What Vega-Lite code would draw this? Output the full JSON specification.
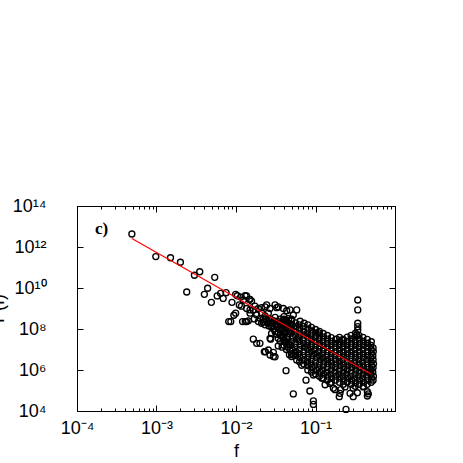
{
  "$schema": "https://vega.github.io/schema/vega-lite/v6.json",
  "width": 318,
  "height": 205,
  "autosize": {"type": "none"},
  "padding": {"left": 77, "top": 206, "right": 68, "bottom": 52},
  "background": "white",
  "config": {"view": {"stroke": "black", "strokeWidth": 1}},
  "datasets": {
    "pts": [
      {"f":4.9e-4,"P":4.3e12},{"f":9.8e-4,"P":3.4e11},{"f":1.5e-3,"P":3.0e11},{"f":2.0e-3,"P":1.8e11},{"f":2.4e-3,"P":6.4e9},{"f":3.0e-3,"P":4.2e10},{"f":3.5e-3,"P":6.2e10},{"f":4.0e-3,"P":4.9e9},{"f":4.4e-3,"P":9.7e9},{"f":4.9e-3,"P":2.0e9},{"f":5.4e-3,"P":3.3e10},{"f":5.8e-3,"P":4.1e9},{"f":6.4e-3,"P":5.5e9},{"f":6.9e-3,"P":3.1e9},{"f":7.5e-3,"P":5.9e9},{"f":8.9e-3,"P":2.0e9},{"f":9.9e-3,"P":4.9e9},{"f":1.04e-2,"P":4.2e9},{"f":1.15e-2,"P":3.6e9},{"f":1.30e-2,"P":4.2e9},{"f":1.47e-2,"P":2.8e9},{"f":1.57e-2,"P":2.3e9},{"f":1.10e-2,"P":1.5e9},{"f":1.17e-2,"P":1.3e9},{"f":1.36e-2,"P":1.0e9},{"f":1.50e-2,"P":8.5e8},{"f":9.4e-3,"P":4.7e8},{"f":8.1e-3,"P":2.3e8},{"f":8.6e-3,"P":2.3e8},{"f":1.21e-2,"P":2.3e8},{"f":1.31e-2,"P":2.3e8},{"f":1.70e-2,"P":3.1e8},{"f":2.10e-2,"P":1.1e9},{"f":2.32e-2,"P":1.2e9},{"f":3.25e-2,"P":1.1e9},{"f":5.0e-2,"P":2.8e8},{"f":1.65e-2,"P":3.2e7},{"f":1.82e-2,"P":2.0e7},{"f":2.0e-2,"P":2.0e7},{"f":2.73e-2,"P":3.2e7},{"f":3.40e-2,"P":1.5e7},{"f":2.34e-2,"P":7.8e6},{"f":2.95e-2,"P":7.3e6},{"f":3.1e-2,"P":4.4e6},
      {"f":9.9e-3,"P":5.9e8},{"f":1.43e-2,"P":2.5e8},{"f":1.50e-2,"P":5.9e8},{"f":1.65e-2,"P":8.5e8},{"f":1.73e-2,"P":1.3e9},{"f":1.91e-2,"P":1.0e9},{"f":1.82e-2,"P":4.8e8},{"f":2.10e-2,"P":5.9e8},{"f":2.32e-2,"P":4.3e8},{"f":2.55e-2,"P":5.9e8},{"f":2.0e-2,"P":3.3e8},{"f":2.2e-2,"P":3.0e8},{"f":2.43e-2,"P":2.3e8},{"f":2.81e-2,"P":2.8e8},{"f":3.1e-2,"P":3.7e8},{"f":2.55e-2,"P":1.9e8},{"f":2.95e-2,"P":1.9e8},{"f":3.4e-2,"P":2.3e8},{"f":3.25e-2,"P":1.3e8},{"f":3.76e-2,"P":1.1e8},{"f":4.13e-2,"P":1.6e8},{"f":3.1e-2,"P":1.5e9},{"f":3.4e-2,"P":1.2e9},{"f":3.94e-2,"P":1.0e9},{"f":4.34e-2,"P":7.8e8},{"f":4.78e-2,"P":8.5e8},{"f":5.8e-2,"P":8.5e8},{"f":2.68e-2,"P":1.0e9},{"f":2.43e-2,"P":1.5e9},{"f":5.26e-2,"P":4.8e8},{"f":1.36e-2,"P":4.1e9},{"f":1.50e-2,"P":2.8e9},{"f":1.24e-2,"P":2.6e9},
      {"f":2.27e-2,"P":7.8e6},{"f":2.55e-2,"P":9.5e6},{"f":2.68e-2,"P":5.4e6},{"f":2.95e-2,"P":4.5e6},{"f":2.68e-2,"P":3.5e7},{"f":3.4e-2,"P":3.5e7},{"f":1.91e-2,"P":2.3e8},{"f":2.10e-2,"P":1.9e8},{"f":2.32e-2,"P":1.6e8},{"f":2.81e-2,"P":1.3e8},{"f":3.1e-2,"P":7.4e7},{"f":3.76e-2,"P":8.9e7},{"f":4.13e-2,"P":6.2e7},{"f":3.94e-2,"P":2.9e7},{"f":4.34e-2,"P":1.7e7},{"f":4.78e-2,"P":9.5e6},{"f":5.52e-2,"P":6.5e6},{"f":5.0e-2,"P":4.5e6},{"f":5.8e-2,"P":3.1e6},{"f":1.36e-2,"P":2.3e8},
      {"f":4.5e-2,"P":2.0e8},{"f":4.0e-2,"P":3.0e8},{"f":3.6e-2,"P":1.8e8},{"f":4.6e-2,"P":1.2e8},{"f":3.6e-2,"P":5.0e7},{"f":4.4e-2,"P":4.0e7},
      {"f":0.027,"P":2.2e8},{"f":0.029,"P":1.5e8},{"f":0.031,"P":2.4e8},{"f":0.033,"P":1.7e8},{"f":0.035,"P":1.0e8},{"f":0.037,"P":1.4e8},{"f":0.030,"P":1.0e8},{"f":0.032,"P":5.5e7},{"f":0.034,"P":7.0e7},{"f":0.038,"P":4.5e7},{"f":0.036,"P":2.5e7},{"f":0.042,"P":2.2e7},{"f":0.038,"P":1.3e7},{"f":0.043,"P":1.0e7},{"f":0.047,"P":5.5e6},{"f":0.026,"P":1.4e8},{"f":0.028,"P":6.0e7},{"f":0.024,"P":3.0e8},{"f":0.022,"P":2.2e8},{"f":0.026,"P":3.3e8},{"f":0.036,"P":3.0e8},{"f":0.038,"P":2.2e8},{"f":0.043,"P":2.6e8},{"f":0.047,"P":1.7e8},
      {"f":4.26e-2,"P":9.3e5},{"f":7.6e-2,"P":3.2e5},{"f":5.26e-2,"P":6.8e4},{"f":8.5e-2,"P":9.5e4},{"f":9.4e-2,"P":3.1e4},{"f":9.4e-2,"P":2.1e4},{"f":0.242,"P":1.2e4},{"f":0.176,"P":1.1e5},{"f":0.208,"P":1.1e5},{"f":0.203,"P":7.3e4},{"f":0.272,"P":7.3e4},{"f":0.336,"P":7.8e4},{"f":0.449,"P":8.7e4},{"f":0.462,"P":6.8e4},{"f":0.449,"P":5.4e4},{"f":0.199,"P":5.0e4},{"f":0.298,"P":5.0e4},
      {"f":0.0526,"P":5.4e6},{"f":0.067,"P":1.7e6},{"f":0.094,"P":5.7e5},{"f":0.12,"P":4.0e5},{"f":0.152,"P":2.2e5},{"f":0.235,"P":1.5e5},{"f":0.298,"P":1.3e5},{"f":0.40,"P":1.5e5},{"f":0.132,"P":1.9e5},{"f":0.168,"P":1.3e5},
      {"f":0.34,"P":2.6e9},{"f":0.34,"P":8.5e8},{"f":0.34,"P":1.9e8},{"f":0.34,"P":1.3e8},{"f":0.34,"P":8.9e7},{"f":0.33,"P":5.1e7},
      {"f":0.108,"P":6.6e7},{"f":0.185,"P":3.2e7},{"f":0.217,"P":2.9e7},{"f":0.449,"P":2.0e7},{"f":0.05,"P":3.0e8},
      {"f":0.040,"P":1.6e7},{"f":0.041,"P":2.5e7},{"f":0.039,"P":4.2e7},{"f":0.040,"P":6.3e7},{"f":0.042,"P":1.0e8},{"f":0.039,"P":1.6e8},{"f":0.041,"P":2.6e8},{"f":0.040,"P":4.0e8},
      {"f":0.045,"P":1.3e7},{"f":0.046,"P":2.0e7},{"f":0.044,"P":3.2e7},{"f":0.045,"P":5.0e7},{"f":0.047,"P":7.9e7},{"f":0.044,"P":1.3e8},{"f":0.045,"P":2.0e8},{"f":0.046,"P":3.2e8},
      {"f":0.050,"P":6.3e6},{"f":0.051,"P":1.0e7},{"f":0.049,"P":1.6e7},{"f":0.050,"P":2.5e7},{"f":0.052,"P":4.0e7},{"f":0.050,"P":6.3e7},{"f":0.049,"P":1.0e8},{"f":0.051,"P":1.6e8},{"f":0.050,"P":2.5e8},
      {"f":0.056,"P":5.0e6},{"f":0.057,"P":7.9e6},{"f":0.055,"P":1.3e7},{"f":0.056,"P":2.0e7},{"f":0.058,"P":3.2e7},{"f":0.056,"P":5.0e7},{"f":0.055,"P":7.9e7},{"f":0.057,"P":1.3e8},{"f":0.056,"P":2.0e8},
      {"f":0.063,"P":2.5e6},{"f":0.064,"P":4.0e6},{"f":0.062,"P":6.3e6},{"f":0.063,"P":1.0e7},{"f":0.065,"P":1.6e7},{"f":0.063,"P":2.5e7},{"f":0.062,"P":4.0e7},{"f":0.064,"P":6.3e7},{"f":0.063,"P":1.0e8},{"f":0.062,"P":1.6e8},{"f":0.064,"P":2.4e8},
      {"f":0.071,"P":2.0e6},{"f":0.072,"P":3.2e6},{"f":0.070,"P":5.0e6},{"f":0.071,"P":7.9e6},{"f":0.073,"P":1.3e7},{"f":0.071,"P":2.0e7},{"f":0.070,"P":3.2e7},{"f":0.072,"P":5.0e7},{"f":0.071,"P":7.9e7},{"f":0.070,"P":1.3e8},{"f":0.072,"P":1.9e8},
      {"f":0.080,"P":1.0e6},{"f":0.081,"P":1.6e6},{"f":0.079,"P":2.5e6},{"f":0.080,"P":4.0e6},{"f":0.082,"P":6.3e6},{"f":0.080,"P":1.0e7},{"f":0.079,"P":1.6e7},{"f":0.081,"P":2.5e7},{"f":0.080,"P":4.0e7},{"f":0.079,"P":6.3e7},{"f":0.081,"P":1.0e8},{"f":0.080,"P":1.6e8},
      {"f":0.089,"P":7.9e5},{"f":0.090,"P":1.3e6},{"f":0.088,"P":2.0e6},{"f":0.089,"P":3.2e6},{"f":0.091,"P":5.0e6},{"f":0.089,"P":7.9e6},{"f":0.088,"P":1.3e7},{"f":0.090,"P":2.0e7},{"f":0.089,"P":3.2e7},{"f":0.088,"P":5.0e7},{"f":0.090,"P":7.9e7},{"f":0.089,"P":1.2e8},
      {"f":0.100,"P":6.3e5},{"f":0.102,"P":1.0e6},{"f":0.098,"P":1.6e6},{"f":0.100,"P":2.5e6},{"f":0.103,"P":4.0e6},{"f":0.100,"P":6.3e6},{"f":0.098,"P":1.0e7},{"f":0.101,"P":1.6e7},{"f":0.100,"P":2.5e7},{"f":0.099,"P":4.0e7},{"f":0.101,"P":6.3e7},{"f":0.100,"P":9.5e7},
      {"f":0.112,"P":5.0e5},{"f":0.114,"P":7.9e5},{"f":0.110,"P":1.3e6},{"f":0.112,"P":2.0e6},{"f":0.115,"P":3.2e6},{"f":0.112,"P":5.0e6},{"f":0.110,"P":7.9e6},{"f":0.113,"P":1.3e7},{"f":0.112,"P":2.0e7},{"f":0.111,"P":3.2e7},{"f":0.113,"P":5.0e7},{"f":0.112,"P":7.6e7},
      {"f":0.125,"P":4.0e5},{"f":0.127,"P":6.3e5},{"f":0.123,"P":1.0e6},{"f":0.125,"P":1.6e6},{"f":0.128,"P":2.5e6},{"f":0.125,"P":4.0e6},{"f":0.123,"P":6.3e6},{"f":0.126,"P":1.0e7},{"f":0.125,"P":1.6e7},{"f":0.124,"P":2.5e7},{"f":0.126,"P":4.0e7},{"f":0.125,"P":6.0e7},
      {"f":0.141,"P":3.2e5},{"f":0.143,"P":5.0e5},{"f":0.139,"P":7.9e5},{"f":0.141,"P":1.3e6},{"f":0.144,"P":2.0e6},{"f":0.141,"P":3.2e6},{"f":0.139,"P":5.0e6},{"f":0.142,"P":7.9e6},{"f":0.141,"P":1.3e7},{"f":0.140,"P":2.0e7},{"f":0.142,"P":3.2e7},{"f":0.141,"P":4.8e7},
      {"f":0.158,"P":2.5e5},{"f":0.160,"P":4.0e5},{"f":0.156,"P":6.3e5},{"f":0.158,"P":1.0e6},{"f":0.161,"P":1.6e6},{"f":0.158,"P":2.5e6},{"f":0.156,"P":4.0e6},{"f":0.159,"P":6.3e6},{"f":0.158,"P":1.0e7},{"f":0.157,"P":1.6e7},{"f":0.159,"P":2.5e7},{"f":0.158,"P":3.8e7},
      {"f":0.178,"P":3.2e5},{"f":0.180,"P":5.0e5},{"f":0.176,"P":7.9e5},{"f":0.178,"P":1.3e6},{"f":0.181,"P":2.0e6},{"f":0.178,"P":3.2e6},{"f":0.176,"P":5.0e6},{"f":0.179,"P":7.9e6},{"f":0.178,"P":1.3e7},{"f":0.177,"P":2.0e7},{"f":0.179,"P":3.1e7},
      {"f":0.200,"P":2.5e5},{"f":0.203,"P":4.0e5},{"f":0.197,"P":6.3e5},{"f":0.200,"P":1.0e6},{"f":0.204,"P":1.6e6},{"f":0.200,"P":2.5e6},{"f":0.197,"P":4.0e6},{"f":0.202,"P":6.3e6},{"f":0.200,"P":1.0e7},{"f":0.198,"P":1.6e7},{"f":0.202,"P":2.5e7},{"f":0.200,"P":3.9e7},
      {"f":0.224,"P":2.0e5},{"f":0.227,"P":3.2e5},{"f":0.221,"P":5.0e5},{"f":0.224,"P":7.9e5},{"f":0.228,"P":1.3e6},{"f":0.224,"P":2.0e6},{"f":0.221,"P":3.2e6},{"f":0.226,"P":5.0e6},{"f":0.224,"P":7.9e6},{"f":0.222,"P":1.3e7},{"f":0.226,"P":2.0e7},{"f":0.224,"P":3.1e7},
      {"f":0.251,"P":2.5e5},{"f":0.255,"P":4.0e5},{"f":0.247,"P":6.3e5},{"f":0.251,"P":1.0e6},{"f":0.256,"P":1.6e6},{"f":0.251,"P":2.5e6},{"f":0.247,"P":4.0e6},{"f":0.253,"P":6.3e6},{"f":0.251,"P":1.0e7},{"f":0.249,"P":1.6e7},{"f":0.253,"P":2.5e7},{"f":0.251,"P":4.0e7},
      {"f":0.282,"P":2.0e5},{"f":0.286,"P":3.2e5},{"f":0.278,"P":5.0e5},{"f":0.282,"P":7.9e5},{"f":0.287,"P":1.3e6},{"f":0.282,"P":2.0e6},{"f":0.278,"P":3.2e6},{"f":0.284,"P":5.0e6},{"f":0.282,"P":7.9e6},{"f":0.280,"P":1.3e7},{"f":0.284,"P":2.0e7},{"f":0.282,"P":3.2e7},{"f":0.280,"P":4.9e7},
      {"f":0.316,"P":1.6e5},{"f":0.320,"P":2.5e5},{"f":0.312,"P":4.0e5},{"f":0.316,"P":6.3e5},{"f":0.322,"P":1.0e6},{"f":0.316,"P":1.6e6},{"f":0.312,"P":2.5e6},{"f":0.319,"P":4.0e6},{"f":0.316,"P":6.3e6},{"f":0.314,"P":1.0e7},{"f":0.319,"P":1.6e7},{"f":0.316,"P":2.5e7},{"f":0.313,"P":4.0e7},{"f":0.318,"P":6.2e7},
      {"f":0.355,"P":2.0e5},{"f":0.360,"P":3.2e5},{"f":0.350,"P":5.0e5},{"f":0.355,"P":7.9e5},{"f":0.361,"P":1.3e6},{"f":0.355,"P":2.0e6},{"f":0.350,"P":3.2e6},{"f":0.358,"P":5.0e6},{"f":0.355,"P":7.9e6},{"f":0.352,"P":1.3e7},{"f":0.358,"P":2.0e7},{"f":0.355,"P":3.2e7},{"f":0.352,"P":4.9e7},
      {"f":0.398,"P":1.6e5},{"f":0.404,"P":2.5e5},{"f":0.392,"P":4.0e5},{"f":0.398,"P":6.3e5},{"f":0.405,"P":1.0e6},{"f":0.398,"P":1.6e6},{"f":0.392,"P":2.5e6},{"f":0.401,"P":4.0e6},{"f":0.398,"P":6.3e6},{"f":0.395,"P":1.0e7},{"f":0.401,"P":1.6e7},{"f":0.398,"P":2.5e7},{"f":0.395,"P":3.9e7},
      {"f":0.447,"P":2.0e5},{"f":0.453,"P":3.2e5},{"f":0.441,"P":5.0e5},{"f":0.447,"P":7.9e5},{"f":0.455,"P":1.3e6},{"f":0.447,"P":2.0e6},{"f":0.441,"P":3.2e6},{"f":0.451,"P":5.0e6},{"f":0.447,"P":7.9e6},{"f":0.444,"P":1.3e7},{"f":0.451,"P":2.0e7},{"f":0.447,"P":3.1e7},
      {"f":0.501,"P":2.5e5},{"f":0.507,"P":4.0e5},{"f":0.495,"P":6.3e5},{"f":0.501,"P":1.0e6},{"f":0.508,"P":1.6e6},{"f":0.501,"P":2.5e6},{"f":0.495,"P":4.0e6},{"f":0.505,"P":6.3e6},{"f":0.501,"P":1.0e7},{"f":0.498,"P":1.6e7},{"f":0.504,"P":2.4e7},
      {"f":0.530,"P":3.2e5},{"f":0.535,"P":5.0e5},{"f":0.526,"P":7.9e5},{"f":0.530,"P":1.3e6},{"f":0.536,"P":2.0e6},{"f":0.530,"P":3.2e6},{"f":0.526,"P":5.0e6},{"f":0.533,"P":7.9e6},{"f":0.530,"P":1.2e7}
    ],
    "fit": [{"f":4.9e-4,"P":2.6e12},{"f":0.505,"P":6.2e5}],
    "lab": [{"f":1.68e-4,"P":4.3e12,"t":"c)"}]
  },
  "layer": [
    {
      "data": {"name": "pts"},
      "mark": {"type": "point", "shape": "circle", "filled": false, "stroke": "black", "strokeWidth": 1.35, "size": 36, "opacity": 1},
      "encoding": {
        "x": {"field": "f", "type": "quantitative",
          "scale": {"type": "log", "domain": [0.0001, 1], "nice": false},
          "axis": {"orient": "bottom", "grid": false,
            "values": [0.0001,0.0002,0.0003,0.0004,0.0005,0.0006,0.0007,0.0008,0.0009,0.001,0.002,0.003,0.004,0.005,0.006,0.007,0.008,0.009,0.01,0.02,0.03,0.04,0.05,0.06,0.07,0.08,0.09,0.1,0.2,0.3,0.4,0.5,0.6,0.7,0.8,0.9,1],
            "labelExpr": "datum.value==0.0001?'10⁻⁴':datum.value==0.001?'10⁻³':datum.value==0.01?'10⁻²':datum.value==0.1?'10⁻¹':''",
            "labelFont": "Liberation Sans", "labelFontSize": 18, "labelColor": "black", "labelPadding": 14,
            "labelAlign": "center", "labelBaseline": "top",
            "labelOverlap": false, "labelFlush": false, "labelBound": false,
            "tickColor": "black", "tickWidth": 1,
            "tickSize": {"condition": {"test": "indexof([0.0001,0.001,0.01,0.1,1], datum.value) >= 0", "value": -6}, "value": -3},
            "domainColor": "black",
            "title": "f", "titleFont": "Liberation Sans", "titleFontSize": 18, "titleFontWeight": "normal", "titleColor": "black",
            "titleY": 45, "titleBaseline": "alphabetic"}
        },
        "y": {"field": "P", "type": "quantitative",
          "scale": {"type": "log", "domain": [10000, 100000000000000], "nice": false},
          "axis": {"orient": "left", "grid": false,
            "values": [10000, 1000000, 100000000, 10000000000, 1000000000000, 100000000000000],
            "labelExpr": "datum.value==10000?'10⁴':datum.value==1000000?'10⁶':datum.value==100000000?'10⁸':datum.value==10000000000?'10¹⁰':datum.value==1000000000000?'10¹²':'10¹⁴'",
            "labelFont": "Liberation Sans", "labelFontSize": 18, "labelColor": "black", "labelPadding": 37,
            "labelAlign": "right", "labelBaseline": "middle",
            "labelOverlap": false, "labelFlush": false, "labelBound": false,
            "tickColor": "black", "tickSize": -6, "domainColor": "black",
            "title": "P(f)", "titleFont": "Liberation Sans", "titleFontSize": 18, "titleFontWeight": "normal", "titleColor": "black",
            "titleAngle": 270, "titleX": -74, "titleY": 102, "titleBaseline": "alphabetic", "titleAlign": "center"}
        }
      }
    },
    {
      "data": {"name": "fit"},
      "mark": {"type": "line", "color": "#ff0000", "strokeWidth": 1.2},
      "encoding": {
        "x": {"field": "f", "type": "quantitative",
          "axis": {"orient": "top", "grid": false, "labels": false, "title": null,
            "values": [0.0001,0.0002,0.0003,0.0004,0.0005,0.0006,0.0007,0.0008,0.0009,0.001,0.002,0.003,0.004,0.005,0.006,0.007,0.008,0.009,0.01,0.02,0.03,0.04,0.05,0.06,0.07,0.08,0.09,0.1,0.2,0.3,0.4,0.5,0.6,0.7,0.8,0.9,1],
            "tickColor": "black",
            "tickSize": {"condition": {"test": "indexof([0.0001,0.001,0.01,0.1,1], datum.value) >= 0", "value": -6}, "value": -3},
            "domainColor": "black"}
        },
        "y": {"field": "P", "type": "quantitative",
          "axis": {"orient": "right", "grid": false, "labels": false, "title": null,
            "values": [10000, 1000000, 100000000, 10000000000, 1000000000000, 100000000000000],
            "tickColor": "black", "tickSize": -6, "domainColor": "black"}
        }
      }
    },
    {
      "data": {"name": "lab"},
      "mark": {"type": "text", "font": "Liberation Serif", "fontWeight": "bold", "fontSize": 17, "align": "left", "baseline": "alphabetic", "color": "black"},
      "encoding": {
        "x": {"field": "f", "type": "quantitative", "axis": null},
        "y": {"field": "P", "type": "quantitative", "axis": null},
        "text": {"field": "t"}
      }
    }
  ],
  "resolve": {"axis": {"x": "independent", "y": "independent"}}
}
